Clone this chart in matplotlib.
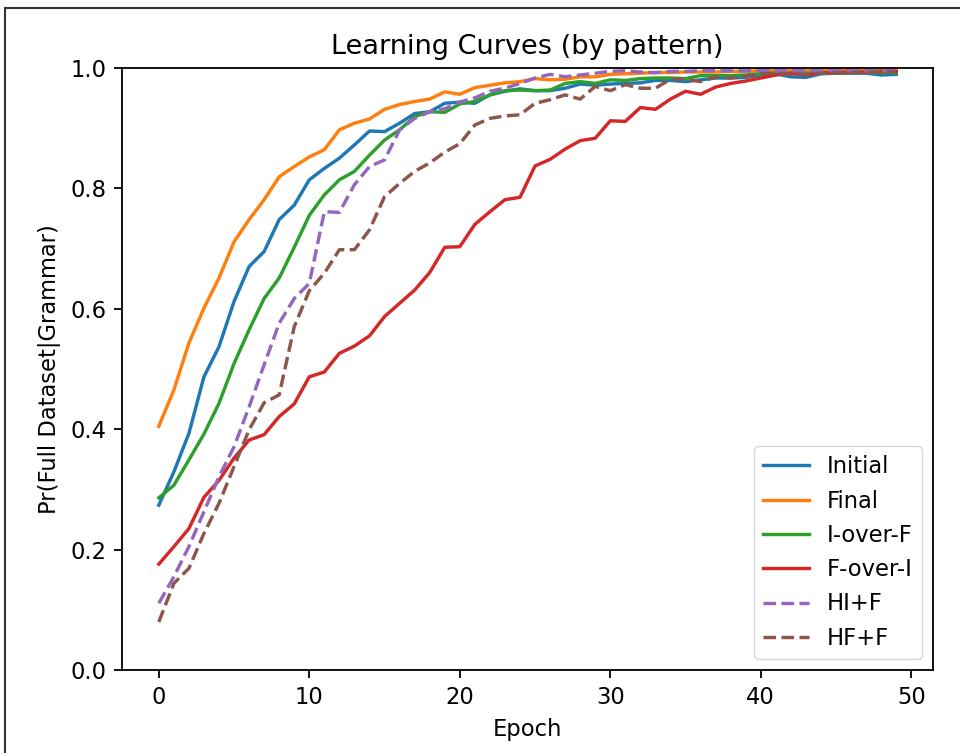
import matplotlib
matplotlib.use('Agg')
import matplotlib.pyplot as plt
from matplotlib.lines import Line2D
import numpy as np

epochs = np.arange(50)

initial = [0.274, 0.329, 0.393, 0.487, 0.537, 0.612, 0.670, 0.695, 0.748, 0.772,
           0.814, 0.833, 0.850, 0.872, 0.895, 0.894, 0.908, 0.924, 0.927, 0.941,
           0.943, 0.941, 0.955, 0.961, 0.965, 0.962, 0.962, 0.966, 0.973, 0.971,
           0.973, 0.974, 0.975, 0.979, 0.979, 0.977, 0.980, 0.983, 0.983, 0.984,
           0.988, 0.990, 0.985, 0.984, 0.990, 0.991, 0.991, 0.991, 0.988, 0.989]
final = [0.405, 0.465, 0.543, 0.601, 0.651, 0.711, 0.748, 0.781, 0.819, 0.836,
         0.852, 0.864, 0.897, 0.908, 0.915, 0.931, 0.939, 0.944, 0.948, 0.960,
         0.956, 0.967, 0.971, 0.975, 0.977, 0.982, 0.980, 0.981, 0.985, 0.985,
         0.989, 0.990, 0.991, 0.992, 0.992, 0.993, 0.993, 0.993, 0.994, 0.994,
         0.995, 0.995, 0.995, 0.995, 0.996, 0.996, 0.996, 0.996, 0.996, 0.996]
i_over_f = [0.286, 0.307, 0.349, 0.392, 0.443, 0.509, 0.565, 0.617, 0.651, 0.702,
            0.755, 0.789, 0.814, 0.828, 0.855, 0.880, 0.897, 0.919, 0.927, 0.926,
            0.940, 0.944, 0.955, 0.962, 0.963, 0.962, 0.963, 0.974, 0.977, 0.974,
            0.980, 0.979, 0.982, 0.983, 0.983, 0.982, 0.987, 0.987, 0.987, 0.988,
            0.990, 0.991, 0.991, 0.991, 0.991, 0.992, 0.992, 0.992, 0.992, 0.992]
f_over_i = [0.176, 0.205, 0.235, 0.287, 0.315, 0.352, 0.382, 0.391, 0.421, 0.442,
            0.487, 0.495, 0.526, 0.538, 0.555, 0.587, 0.609, 0.631, 0.660, 0.702,
            0.703, 0.740, 0.761, 0.781, 0.785, 0.837, 0.848, 0.865, 0.879, 0.883,
            0.912, 0.911, 0.934, 0.931, 0.948, 0.961, 0.956, 0.968, 0.974, 0.978,
            0.983, 0.988, 0.991, 0.988, 0.992, 0.992, 0.993, 0.993, 0.994, 0.994]
hi_f = [0.111, 0.155, 0.205, 0.263, 0.321, 0.371, 0.437, 0.507, 0.576, 0.617,
        0.642, 0.761, 0.760, 0.806, 0.836, 0.847, 0.897, 0.916, 0.927, 0.932,
        0.943, 0.950, 0.961, 0.966, 0.974, 0.983, 0.989, 0.985, 0.988, 0.991,
        0.994, 0.995, 0.993, 0.992, 0.994, 0.994, 0.995, 0.995, 0.995, 0.995,
        0.995, 0.995, 0.995, 0.995, 0.995, 0.995, 0.995, 0.995, 0.995, 0.995]
hf_f = [0.080, 0.144, 0.169, 0.227, 0.277, 0.338, 0.399, 0.444, 0.457, 0.570,
        0.630, 0.659, 0.698, 0.698, 0.731, 0.786, 0.808, 0.828, 0.842, 0.860,
        0.874, 0.905, 0.916, 0.920, 0.922, 0.941, 0.947, 0.955, 0.948, 0.969,
        0.962, 0.972, 0.966, 0.966, 0.981, 0.981, 0.977, 0.985, 0.983, 0.986,
        0.990, 0.991, 0.989, 0.989, 0.991, 0.992, 0.992, 0.993, 0.993, 0.993]

series = [("Initial", initial, "#1f77b4", "-"),
          ("Final", final, "#ff7f0e", "-"),
          ("I-over-F", i_over_f, "#2ca02c", "-"),
          ("F-over-I", f_over_i, "#d62728", "-"),
          ("HI+F", hi_f, "#9467bd", "--"),
          ("HF+F", hf_f, "#8c564b", "--")]

# the reference is a default-style plot blown up ~1.63x
k = 1.63
plt.rcParams['font.family'] = 'DejaVu Sans'
fig = plt.figure(figsize=(9.6, 7.53), dpi=100)
ax = fig.add_axes([0.127, 0.110, 0.845, 0.800])

for name, vals, col, ls in series:
    ax.plot(epochs, vals, color=col, linestyle=ls, linewidth=1.5 * k, label=name,
            dashes=(3.7, 1.6) if ls == "--" else (None, None))

ax.set_ylim(0, 1.0)
ax.set_xticks([0, 10, 20, 30, 40, 50])
ax.set_yticks([0.0, 0.2, 0.4, 0.6, 0.8, 1.0])
ax.tick_params(labelsize=10 * k, length=3.5 * k, width=0.8 * k, pad=3.5 * k)
for s in ax.spines.values():
    s.set_linewidth(0.8 * k)
ax.set_title("Learning Curves (by pattern)", fontsize=12 * k, pad=6 * k)
ax.set_xlabel("Epoch", fontsize=10 * k, labelpad=4 * k)
ax.set_ylabel("Pr(Full Dataset|Grammar)", fontsize=10 * k, labelpad=4 * k)
ax.legend(loc="lower right", fontsize=10 * k)

# screenshot frame
fig.add_artist(Line2D([0.0052, 1.0], [0.990, 0.990], transform=fig.transFigure,
                      color='#333333', linewidth=1.5))
fig.add_artist(Line2D([0.0052, 0.0052], [0.0, 0.990], transform=fig.transFigure,
                      color='#333333', linewidth=1.5))

fig.savefig("out.png", dpi=100)
